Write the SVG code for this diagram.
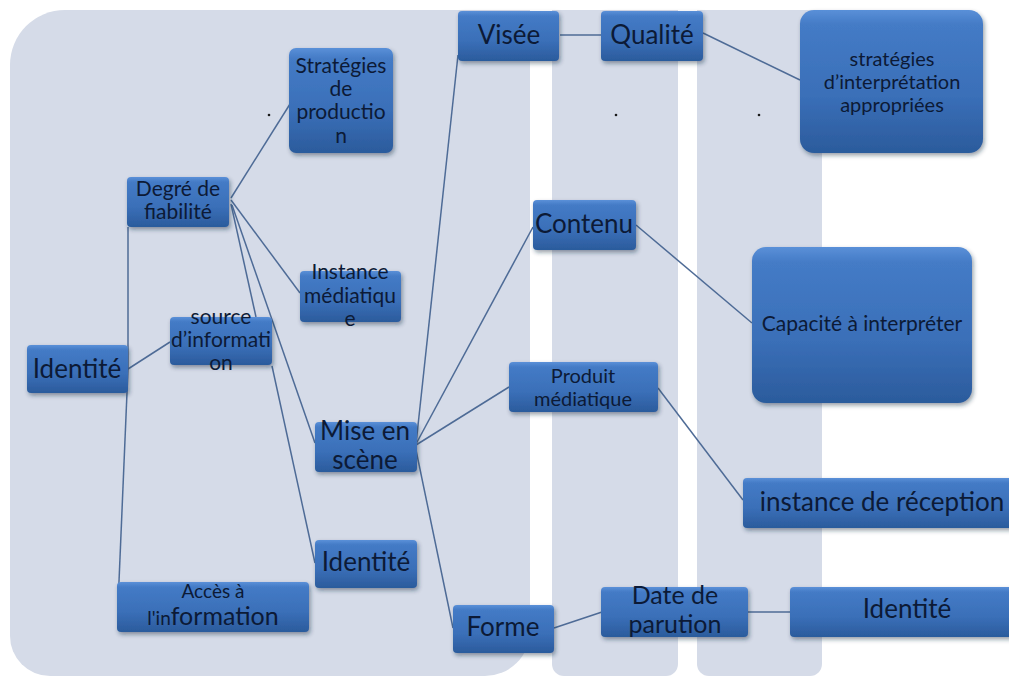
<svg xmlns="http://www.w3.org/2000/svg" width="1009" height="677" viewBox="0 0 1009 677">
<defs>
<linearGradient id="nodeGrad" x1="0" y1="0" x2="0" y2="1">
<stop offset="0" stop-color="#5a90d8"/>
<stop offset="0.1" stop-color="#447bc6"/>
<stop offset="0.6" stop-color="#3a6fb8"/>
<stop offset="1" stop-color="#2b5b9c"/>
</linearGradient>
<filter id="shadow" x="-10%" y="-10%" width="130%" height="140%">
<feDropShadow dx="1.5" dy="2.5" stdDeviation="2" flood-color="#1a2a40" flood-opacity="0.45"/>
</filter>
<style>
.panel{fill:#d5dbe8}
.node{fill:url(#nodeGrad);filter:url(#shadow)}
.t{font-family:Lato,"Liberation Sans",sans-serif;fill:#0c1a36;text-anchor:middle}
.s20{font-size:20px}
.s21{font-size:21px}
.s25{font-size:25px}
.s26{font-size:26px}
.edge{stroke:#4e6b96;stroke-width:1.5;fill:none}
.dot{fill:#1a1a1a}
</style>
</defs>
<rect width="1009" height="677" fill="#ffffff"/>
<g id="panels">
<path class="panel" d="M65,10 L530,10 L530,631 A45,45 0 0 1 485,676 L50,676 A40,40 0 0 1 10,636 L10,65 A55,55 0 0 1 65,10 Z"/>
<path class="panel" d="M552,10 L678,10 L678,664 A12,12 0 0 1 666,676 L564,676 A12,12 0 0 1 552,664 Z"/>
<path class="panel" d="M697,10 L822,10 L822,664 A12,12 0 0 1 810,676 L709,676 A12,12 0 0 1 697,664 Z"/>
<circle class="dot" cx="269" cy="115" r="1.3"/>
<circle class="dot" cx="616" cy="115" r="1.3"/>
<circle class="dot" cx="759" cy="115" r="1.3"/>
</g>
<g id="connectors">
<line class="edge" x1="560" y1="35" x2="601" y2="35"/>
<line class="edge" x1="703" y1="33" x2="800" y2="80"/>
<line class="edge" x1="231" y1="198" x2="290" y2="104"/>
<line class="edge" x1="231" y1="200" x2="300" y2="293"/>
<line class="edge" x1="231" y1="204" x2="256" y2="317"/>
<line class="edge" x1="232" y1="205" x2="315" y2="443"/>
<line class="edge" x1="128" y1="227" x2="128" y2="369"/>
<line class="edge" x1="128" y1="369" x2="118" y2="605"/>
<line class="edge" x1="128" y1="369" x2="170" y2="342"/>
<line class="edge" x1="272" y1="366" x2="315" y2="563"/>
<line class="edge" x1="416" y1="444" x2="458" y2="55"/>
<line class="edge" x1="416" y1="444" x2="533" y2="227"/>
<line class="edge" x1="416" y1="445" x2="509" y2="387"/>
<line class="edge" x1="416" y1="450" x2="453" y2="628"/>
<line class="edge" x1="554" y1="628" x2="602" y2="612"/>
<line class="edge" x1="748" y1="612" x2="790" y2="612"/>
<line class="edge" x1="636" y1="225" x2="752" y2="323"/>
<line class="edge" x1="658" y1="388" x2="743" y2="500"/>
</g>
<g id="n-visee"><rect class="node" x="458" y="11" width="101" height="50" rx="4"/><text class="t s26" x="509" y="44">Visée</text></g>
<g id="n-qualite"><rect class="node" x="601" y="11" width="102" height="50" rx="4"/><text class="t s26" x="652" y="44">Qualité</text></g>
<g id="n-strat-interp"><rect class="node" x="800" y="10" width="183" height="143" rx="14"/><text class="t s20" x="892" y="66">stratégies</text><text class="t s20" x="892" y="89">d’interprétation</text><text class="t s20" x="892" y="112">appropriées</text></g>
<g id="n-strat-prod"><rect class="node" x="289" y="48" width="104" height="105" rx="7"/><text class="t s21" x="341" y="73">Stratégies</text><text class="t s21" x="341" y="96">de</text><text class="t s21" x="341" y="119">productio</text><text class="t s21" x="341" y="143">n</text></g>
<g id="n-degre"><rect class="node" x="127" y="177" width="102" height="50" rx="4"/><text class="t s21" x="178" y="196">Degré de</text><text class="t s21" x="178" y="219">fiabilité</text></g>
<g id="n-instance-med"><rect class="node" x="300" y="271" width="101" height="51" rx="4"/><text class="t s21" x="350" y="279">Instance</text><text class="t s21" x="350" y="303">médiatiqu</text><text class="t s21" x="350" y="326">e</text></g>
<g id="n-source"><rect class="node" x="170" y="317" width="102" height="48" rx="4"/><text class="t s21" x="221" y="324">source</text><text class="t s21" x="221" y="347">d’informati</text><text class="t s21" x="221" y="370">on</text></g>
<g id="n-identite-l"><rect class="node" x="27" y="345" width="101" height="48" rx="4"/><text class="t s26" x="77" y="378">Identité</text></g>
<g id="n-mise"><rect class="node" x="315" y="422" width="102" height="50" rx="4"/><text class="t s26" x="365" y="440">Mise en</text><text class="t s26" x="365" y="469">scène</text></g>
<g id="n-identite-m"><rect class="node" x="315" y="540" width="102" height="48" rx="4"/><text class="t s26" x="366" y="571">Identité</text></g>
<g id="n-acces"><rect class="node" x="117" y="582" width="192" height="50" rx="4"/><text class="t" x="213" y="598" style="font-size:19px">Accès à</text><text class="t" x="213" y="625"><tspan style="font-size:19px">l'in</tspan><tspan style="font-size:25px">formation</tspan></text></g>
<g id="n-forme"><rect class="node" x="453" y="605" width="101" height="48" rx="4"/><text class="t s26" x="503" y="636">Forme</text></g>
<g id="n-contenu"><rect class="node" x="533" y="200" width="103" height="50" rx="4"/><text class="t s26" x="584" y="233">Contenu</text></g>
<g id="n-produit"><rect class="node" x="509" y="362" width="149" height="50" rx="4"/><text class="t s20" x="583" y="383">Produit</text><text class="t s20" x="583" y="406">médiatique</text></g>
<g id="n-capacite"><rect class="node" x="752" y="247" width="220" height="156" rx="14"/><text class="t s21" x="862" y="331">Capacité à interpréter</text></g>
<g id="n-instance-rec"><rect class="node" x="743" y="478" width="290" height="50" rx="4"/><text class="t s26" x="882" y="511">instance de réception</text></g>
<g id="n-date"><rect class="node" x="601" y="587" width="147" height="50" rx="4"/><text class="t s25" x="675" y="604">Date de</text><text class="t s25" x="675" y="633">parution</text></g>
<g id="n-identite-r"><rect class="node" x="790" y="587" width="240" height="50" rx="4"/><text class="t s26" x="907" y="618">Identité</text></g>
</svg>
